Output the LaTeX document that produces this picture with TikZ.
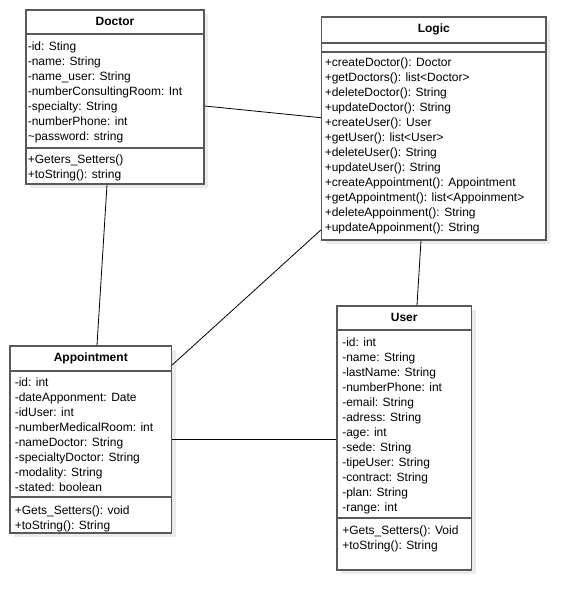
\documentclass[tikz,border=0pt]{standalone}
\usepackage{fontspec}
\setmainfont{Liberation Sans}
\usetikzlibrary{positioning, fit, shadows}

\begin{document}
\begin{tikzpicture}[
				x=0.75pt, y=-0.75pt,
				every node/.style={font=\fontsize{9}{11.25}\selectfont},
				classbox/.style={draw=black!65, line width=1pt, fill=white, inner sep=0pt,
					drop shadow={shadow xshift=3pt, shadow yshift=-3pt, fill=black!8, opacity=1}},
				title/.style={font=\fontsize{9}{11.25}\selectfont\bfseries, inner sep=0pt},
				members/.style={anchor=base west, align=left, inner sep=0pt},
				divider/.style={draw=black!65, line width=1pt},
				assoc/.style={draw=black, line width=0.6pt}]

			\useasboundingbox (0,0) rectangle (585,611);

			% class boxes
			\node[classbox, fit={(26,10) (204,184)}] (doctor) {};
			\node[classbox, fit={(321.5,17) (546,240)}] (logic) {};
			\node[classbox, fit={(10,346) (171.5,533)}] (appointment) {};
			\node[classbox, fit={(337,306) (471.5,570)}] (user) {};

			% associations
			\draw[assoc] (doctor.east |- 0,106) -- (logic.west |- 0,117.7);
			\draw[assoc] (doctor.south -| 107,0) -- (appointment.north -| 97,0);
			\draw[assoc] (logic.west |- 0,230) -- (appointment.east |- 0,365);
			\draw[assoc] (logic.south -| 421,0) -- (user.north -| 417,0);
			\draw[assoc] (appointment.east |- 0,439) -- (user.west |- 0,439);

			% Doctor (member nodes sit on the baseline of their last line)
			\node[title, below=0pt of doctor.north, minimum height=18pt] (doctor_title) {Doctor};
			\draw[divider] (doctor.west |- 0,34) -- (doctor.east |- 0,34);
			\draw[divider] (doctor.west |- 0,148) -- (doctor.east |- 0,148);
			\node[members] (doctor_attrs) at (27.5,140) {-id: Sting\\-name: String\\-name\_user: String\\-numberConsultingRoom: Int\\-specialty: String\\-numberPhone: int\\\textasciitilde password: string};
			\node[members] (doctor_ops) at (27.5,178) {+Geters\_Setters()\\+toString(): string};

			% Logic
			\node[title, below=0pt of logic.north, minimum height=19.5pt] (logic_title) {Logic};
			\draw[divider] (logic.west |- 0,43) -- (logic.east |- 0,43);
			\draw[divider] (logic.west |- 0,52) -- (logic.east |- 0,52);
			\node[members] (logic_ops) at (324.5,231.7) {+createDoctor(): Doctor\\+getDoctors(): list<Doctor>\\+deleteDoctor(): String\\+updateDoctor(): String\\+createUser(): User\\+getUser(): list<User>\\+deleteUser(): String\\+updateUser(): String\\+createAppointment(): Appointment\\+getAppointment(): list<Appoinment>\\+deleteAppoinment(): String\\+updateAppoinment(): String};

			% Appointment
			\node[title, below=0pt of appointment.north, minimum height=18.75pt] (appointment_title) {Appointment};
			\draw[divider] (appointment.west |- 0,371) -- (appointment.east |- 0,371);
			\draw[divider] (appointment.west |- 0,497) -- (appointment.east |- 0,497);
			\node[members] (appointment_attrs) at (14.5,491) {-id: int\\-dateApponment: Date\\-idUser: int\\-numberMedicalRoom: int\\-nameDoctor: String\\-specialtyDoctor: String\\-modality: String\\-stated: boolean};
			\node[members] (appointment_ops) at (14.5,529) {+Gets\_Setters(): void\\+toString(): String};

			% User
			\node[title, below=0pt of user.north, minimum height=18pt] (user_title) {User};
			\draw[divider] (user.west |- 0,330) -- (user.east |- 0,330);
			\draw[divider] (user.west |- 0,518) -- (user.east |- 0,518);
			\node[members] (user_attrs) at (342,511) {-id: int\\-name: String\\-lastName: String\\-numberPhone: int\\-email: String\\-adress: String\\-age: int\\-sede: String\\-tipeUser: String\\-contract: String\\-plan: String\\-range: int};
			\node[members] (user_ops) at (342,549) {+Gets\_Setters(): Void\\+toString(): String};
		\end{tikzpicture}
\end{document}
